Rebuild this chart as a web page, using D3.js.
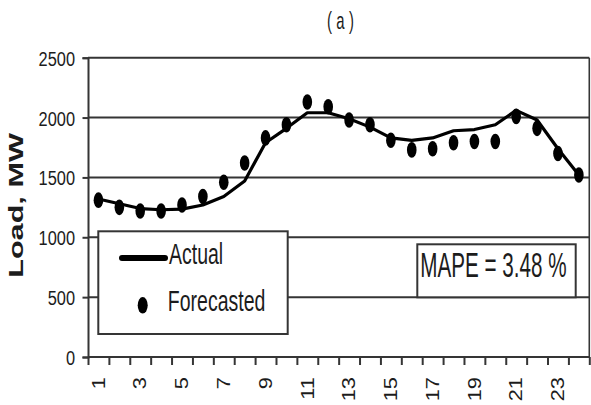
<!DOCTYPE html>
<html>
<head>
<meta charset="utf-8">
<script src="https://cdn.jsdelivr.net/npm/d3@7/dist/d3.min.js"></script>
<style>
  html, body { margin: 0; padding: 0; background: #fff; }
  svg { display: block; }
  text { font-family: "Liberation Sans", Arial, sans-serif; fill: #1c1c1c; }
</style>
</head>
<body>
<svg id="chart" width="591" height="405"></svg>
<script>
// Hourly load, MW
const hours = ["1","2","3","4","5","6","7","8","9","10","11","12",
               "13","14","15","16","17","18","19","20","21","22","23","24"];
const actualLoad = [1320, 1280, 1240, 1230, 1235, 1270, 1340, 1470, 1790, 1910, 2040, 2040,
                    1990, 1920, 1830, 1810, 1830, 1890, 1900, 1940, 2060, 1980, 1740, 1520];
const forecastLoad = [1310, 1250, 1220, 1220, 1270, 1340, 1460, 1620, 1830, 1940, 2130, 2090,
                      1980, 1940, 1810, 1730, 1740, 1790, 1800, 1800, 2010, 1910, 1700, 1520];
const yTicks = [0, 500, 1000, 1500, 2000, 2500];
const xLabelHours = ["1","3","5","7","9","11","13","15","17","19","21","23"];
const titleText = "(a)";
const yTitle = "Load, MW";
const legendLabels = ["Actual", "Forecasted"];
const mapeText = "MAPE = 3.48 %";

const svg = d3.select("#chart");
const plotL = 88, plotR = 589.3, plotT = 57.7, plotB = 357;
const gridColor = "#353535";

const x = d3.scaleBand().domain(hours).range([plotL, plotR]).padding(0);
const bw = x.bandwidth();
const cx = h => x(h) + bw / 2;
const y = d3.scaleLinear().domain([0, 2500]).range([plotB, plotT]);

// horizontal gridlines (the 2500 one doubles as the top frame)
svg.append("g").selectAll("line").data(yTicks).join("line")
  .attr("x1", plotL).attr("x2", plotR)
  .attr("y1", d => y(d)).attr("y2", d => y(d))
  .attr("stroke", gridColor).attr("stroke-width", 2);

// right frame
svg.append("line")
  .attr("x1", plotR).attr("x2", plotR).attr("y1", y(2500)).attr("y2", y(0))
  .attr("stroke", gridColor).attr("stroke-width", 1.6);

// y axis
const yAxis = svg.append("g").attr("transform", `translate(${plotL},0)`)
  .call(d3.axisLeft(y).tickValues(yTicks).tickSize(5.5).tickFormat(d3.format("d")));
yAxis.select(".domain").attr("stroke", gridColor).attr("stroke-width", 2);
yAxis.selectAll(".tick line").attr("stroke", gridColor).attr("stroke-width", 2);
yAxis.selectAll(".tick text")
  .attr("x", null).attr("dy", null)
  .attr("text-anchor", "end")
  .attr("font-size", 21)
  .style("font-family", '"Liberation Sans", Arial, sans-serif')
  .attr("fill", "#1c1c1c")
  .attr("transform", "translate(-13,7.5) scale(0.78,1)");

// x axis: ticks on hour boundaries
const boundaries = hours.map(h => x(h)).concat([x.range()[1]]);
const xb = d3.scaleLinear().domain([plotL, plotR]).range([plotL, plotR]);
const xAxis = svg.append("g").attr("transform", `translate(0,${plotB})`)
  .call(d3.axisBottom(xb).tickValues(boundaries).tickSize(8).tickFormat(""));
xAxis.select(".domain").remove();
xAxis.selectAll(".tick line").attr("stroke", gridColor).attr("stroke-width", 2);

// x labels, odd hours, rotated
const xfs = 17.5;
svg.append("g").selectAll("text").data(xLabelHours).join("text")
  .attr("text-anchor", "end")
  .attr("font-size", xfs)
  .attr("transform", d => `translate(${cx(d) + 0.358 * xfs},377) rotate(-90) scale(1.25,1)`)
  .text(d => d);

// y title
svg.append("text")
  .attr("text-anchor", "middle")
  .attr("font-size", 21)
  .attr("font-weight", "bold")
  .attr("transform", "translate(23,205.5) rotate(-90) scale(1.46,1)")
  .text(yTitle);

// title
svg.append("text")
  .attr("font-size", 24)
  .attr("letter-spacing", 7)
  .attr("transform", "translate(327,28.5) scale(0.62,1)")
  .text(titleText);

// actual load line
const line = d3.line().x((d, i) => cx(hours[i])).y(d => y(d));
svg.append("path").datum(actualLoad)
  .attr("d", line)
  .attr("fill", "none").attr("stroke", "#000")
  .attr("stroke-width", 3.2).attr("stroke-linejoin", "round");

// forecasted points
svg.append("g").selectAll("ellipse").data(forecastLoad).join("ellipse")
  .attr("cx", (d, i) => cx(hours[i]))
  .attr("cy", d => y(d))
  .attr("rx", 4.8).attr("ry", 7.8)
  .attr("fill", "#000");

// legend
const lg = svg.append("g");
lg.append("rect")
  .attr("x", 98.3).attr("y", 231.3).attr("width", 189.4).attr("height", 102.7)
  .attr("fill", "#fff").attr("stroke", gridColor).attr("stroke-width", 2);
lg.append("line")
  .attr("x1", 122).attr("x2", 165).attr("y1", 258).attr("y2", 258)
  .attr("stroke", "#000").attr("stroke-width", 6).attr("stroke-linecap", "round");
lg.append("ellipse")
  .attr("cx", 142.7).attr("cy", 305.3).attr("rx", 5).attr("ry", 8.3).attr("fill", "#000");
lg.append("text").attr("font-size", 30)
  .attr("transform", "translate(169,264) scale(0.65,1)").text(legendLabels[0]);
lg.append("text").attr("font-size", 30)
  .attr("transform", "translate(167.8,311.3) scale(0.65,1)").text(legendLabels[1]);

// MAPE box
const mg = svg.append("g");
mg.append("rect")
  .attr("x", 417.3).attr("y", 244.3).attr("width", 158.4).attr("height", 53)
  .attr("fill", "#fff").attr("stroke", gridColor).attr("stroke-width", 2);
mg.append("text").attr("font-size", 35.6)
  .attr("transform", "translate(420.3,276.7) scale(0.58,1)").text(mapeText);
</script>
</body>
</html>
